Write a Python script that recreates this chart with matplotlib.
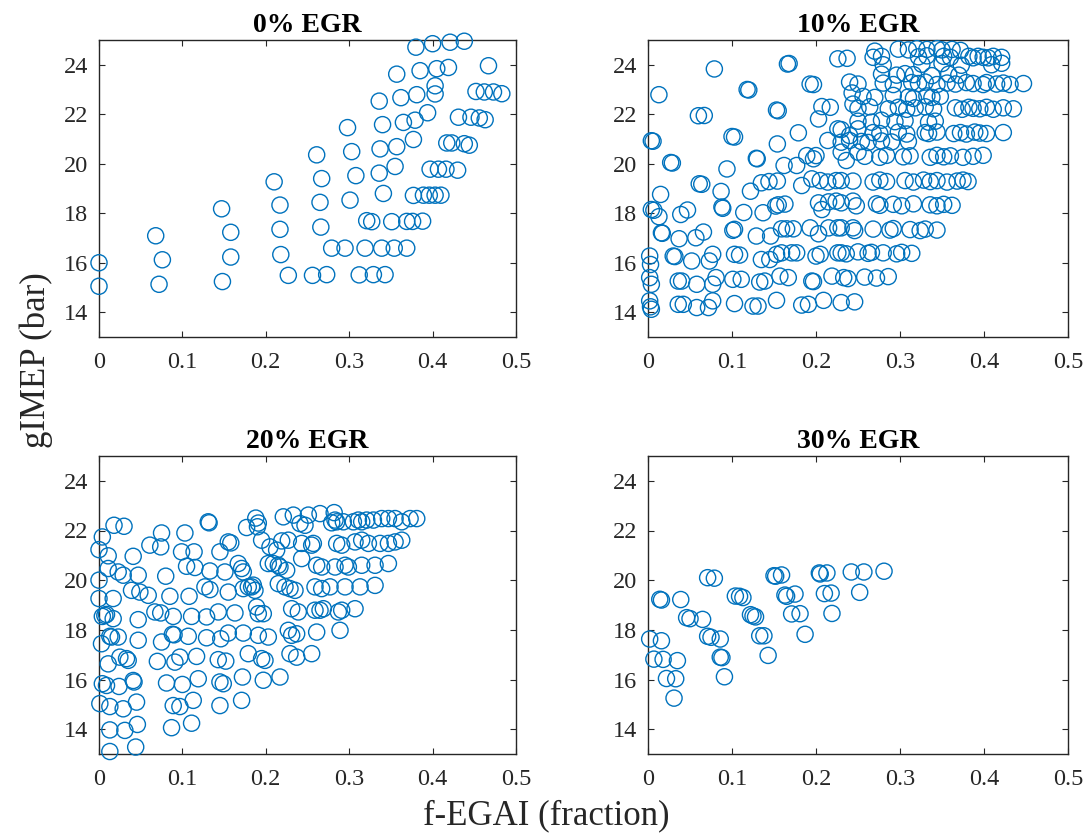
import matplotlib
matplotlib.use("Agg")
import matplotlib.pyplot as plt

plt.rcParams['font.family'] = ['Liberation Serif', 'DejaVu Serif']

MARKER_BLUE = '#0072BD'
AXIS_GREY = '#262626'

# ---------------- 0% EGR ----------------
egr0_x = [0.000, 0.000, 0.068, 0.076, 0.072, 0.147, 0.158, 0.158, 0.148, 0.210,
          0.217, 0.217, 0.218, 0.227, 0.261, 0.267, 0.265, 0.266, 0.256, 0.273,
          0.279, 0.295, 0.298, 0.303, 0.308, 0.301, 0.312, 0.329, 0.343, 0.319,
          0.339, 0.354, 0.369, 0.321, 0.327, 0.351, 0.369, 0.376, 0.388, 0.336,
          0.340, 0.337, 0.336, 0.341, 0.357, 0.362, 0.365, 0.357, 0.355, 0.380,
          0.385, 0.381, 0.379, 0.377, 0.400, 0.405, 0.403, 0.403, 0.394, 0.421,
          0.438, 0.419, 0.467, 0.377, 0.389, 0.396, 0.403, 0.410, 0.397, 0.407,
          0.416, 0.430, 0.417, 0.423, 0.438, 0.444, 0.431, 0.446, 0.456, 0.463,
          0.452, 0.462, 0.473, 0.483]
egr0_y = [16.00, 15.05, 17.09, 16.12, 15.13, 18.18, 17.23, 16.23, 15.24, 19.27,
          18.33, 17.35, 16.33, 15.49, 20.36, 19.40, 18.44, 17.44, 15.49, 15.52,
          16.59, 16.59, 21.46, 20.49, 19.52, 18.53, 15.51, 15.52, 15.52, 16.59,
          16.59, 16.59, 16.59, 17.70, 17.66, 17.66, 17.67, 17.67, 17.68, 22.53,
          21.58, 20.60, 19.62, 18.80, 23.62, 22.67, 21.67, 20.69, 19.89, 24.71,
          23.76, 22.79, 21.76, 20.98, 24.85, 23.84, 23.15, 22.82, 22.06, 24.91,
          24.95, 23.89, 23.96, 18.72, 18.73, 18.73, 18.73, 18.73, 19.78, 19.78,
          19.78, 19.74, 20.84, 20.84, 20.81, 20.75, 21.88, 21.88, 21.85, 21.78,
          22.92, 22.90, 22.90, 22.83]

# ---------------- 10% EGR ----------------
egr10_x = [
    # sparse upper-left strands
    0.079, 0.013, 0.166, 0.168, 0.118, 0.120, 0.060, 0.067, 0.004, 0.006,
    0.027, 0.029, 0.100, 0.103, 0.153, 0.155, 0.193, 0.197, 0.226, 0.094,
    0.129, 0.130, 0.154, 0.179, 0.203, 0.207, 0.217, 0.214, 0.226, 0.162,
    0.177, 0.189, 0.197, 0.200, 0.061, 0.064, 0.087, 0.122, 0.135, 0.144,
    0.154, 0.183, 0.195, 0.205, 0.214, 0.224, 0.015, 0.004, 0.007, 0.013,
    0.039, 0.047, 0.088, 0.089, 0.114, 0.137, 0.152, 0.155, 0.163, 0.203,
    0.207, 0.215, 0.224, 0.016, 0.017, 0.037, 0.057, 0.066, 0.101, 0.103,
    0.129, 0.146, 0.159, 0.165, 0.173, 0.193, 0.203, 0.215, 0.226,
    # ~16.3 bar, left
    0.002, 0.003, 0.030, 0.032, 0.052, 0.073, 0.077, 0.103, 0.109, 0.135,
    0.145, 0.153, 0.159, 0.171, 0.177, 0.200, 0.205, 0.226,
    # ~15.3 bar, left
    0.002, 0.004, 0.036, 0.040, 0.058, 0.077, 0.081, 0.101, 0.111, 0.133,
    0.139, 0.157, 0.167, 0.195, 0.197, 0.219,
    # ~14.3 bar, left
    0.002, 0.004, 0.003, 0.036, 0.042, 0.058, 0.072, 0.077, 0.103, 0.125,
    0.131, 0.153, 0.183, 0.191, 0.209,
    # ~24.6 bar
    0.270, 0.298, 0.310, 0.320, 0.332, 0.344, 0.350, 0.362, 0.372,
    # ~24.3 bar
    0.237, 0.268, 0.278, 0.322, 0.332, 0.352, 0.360, 0.382, 0.387, 0.393,
    0.399, 0.405, 0.411, 0.421,
    # ~24.0 bar
    0.280, 0.326, 0.350, 0.373, 0.409, 0.421,
    # ~23.6 bar
    0.278, 0.296, 0.306, 0.316, 0.338, 0.358, 0.370,
    # ~23.25 bar
    0.240, 0.250, 0.280, 0.292, 0.314, 0.322, 0.330, 0.344, 0.356, 0.366,
    0.379, 0.387, 0.399, 0.403, 0.415, 0.423, 0.431, 0.447,
    # ~22.75 bar
    0.243, 0.256, 0.270, 0.292, 0.310, 0.316, 0.332, 0.338, 0.348,
    # ~22.25 bar
    0.244, 0.250, 0.264, 0.286, 0.298, 0.308, 0.318, 0.330, 0.340, 0.366,
    0.374, 0.382, 0.387, 0.395, 0.403, 0.411, 0.423, 0.435,
    # ~21.75 bar
    0.250, 0.266, 0.278, 0.294, 0.306, 0.334, 0.342,
    # ~21.25 bar
    0.230, 0.240, 0.250, 0.268, 0.276, 0.298, 0.308, 0.330, 0.334, 0.344,
    0.364, 0.372, 0.379, 0.389, 0.395, 0.403, 0.423,
    # ~20.9 bar
    0.230, 0.240, 0.254, 0.262, 0.278, 0.290, 0.310,
    # ~20.3 bar
    0.230, 0.236, 0.250, 0.258, 0.276, 0.284, 0.304, 0.312, 0.336, 0.344,
    0.352, 0.360, 0.375, 0.387, 0.399,
    # ~19.3 bar
    0.230, 0.244, 0.268, 0.276, 0.284, 0.306, 0.316, 0.328, 0.336, 0.344,
    0.356, 0.368, 0.375, 0.381,
    # ~18.35 bar
    0.230, 0.244, 0.248, 0.272, 0.276, 0.292, 0.302, 0.316, 0.336, 0.344,
    0.352, 0.362,
    # ~17.35 bar
    0.230, 0.244, 0.246, 0.268, 0.288, 0.292, 0.312, 0.324, 0.330, 0.344,
    # ~16.4 bar
    0.230, 0.236, 0.250, 0.262, 0.266, 0.280, 0.296, 0.302, 0.314,
    # ~15.4 bar
    0.233, 0.238, 0.258, 0.272, 0.286,
    # ~14.4 bar
    0.230, 0.246,
]
egr10_y = [
    23.83, 22.79, 24.03, 24.05, 23.00, 22.98, 21.94, 21.95, 20.93, 20.91,
    20.05, 20.03, 21.10, 21.08, 22.17, 22.14, 23.22, 23.20, 24.24, 19.79,
    20.22, 20.20, 20.80, 21.25, 21.81, 22.31, 22.28, 20.94, 21.41, 19.93,
    19.93, 20.33, 20.20, 20.33, 19.19, 19.17, 18.88, 18.89, 19.23, 19.28,
    19.30, 19.12, 19.39, 19.32, 19.26, 19.32, 18.76, 18.15, 18.12, 17.86,
    17.95, 18.13, 18.25, 18.20, 18.03, 18.02, 18.29, 18.34, 18.37, 18.42,
    18.15, 18.46, 18.49, 17.21, 17.19, 16.97, 17.01, 17.24, 17.31, 17.35,
    17.08, 17.08, 17.37, 17.37, 17.37, 17.41, 17.17, 17.41, 17.41,
    16.27, 15.93, 16.27, 16.25, 16.07, 16.07, 16.34, 16.34, 16.31, 16.13,
    16.13, 16.34, 16.40, 16.40, 16.40, 16.27, 16.34, 16.40,
    15.40, 15.13, 15.26, 15.26, 15.13, 15.13, 15.40, 15.33, 15.33, 15.22,
    15.26, 15.46, 15.40, 15.26, 15.24, 15.46,
    14.46, 14.12, 14.22, 14.32, 14.32, 14.19, 14.19, 14.46, 14.35, 14.25,
    14.25, 14.48, 14.29, 14.32, 14.48,
    24.55, 24.63, 24.60, 24.65, 24.62, 24.65, 24.60, 24.62, 24.58,
    24.26, 24.30, 24.34, 24.32, 24.36, 24.34, 24.30, 24.34, 24.28, 24.34,
    24.30, 24.28, 24.34, 24.30,
    24.00, 24.02, 24.05, 23.98, 24.00, 24.06,
    23.62, 23.58, 23.64, 23.60, 23.56, 23.62, 23.58,
    23.30, 23.22, 23.26, 23.20, 23.28, 23.24, 23.30, 23.20, 23.26, 23.22,
    23.28, 23.24, 23.20, 23.28, 23.22, 23.26, 23.20, 23.24,
    22.86, 22.72, 22.68, 22.76, 22.70, 22.64, 22.74, 22.68, 22.72,
    22.41, 22.24, 22.30, 22.22, 22.28, 22.20, 22.26, 22.30, 22.22, 22.26,
    22.20, 22.28, 22.24, 22.22, 22.28, 22.20, 22.26, 22.22,
    21.72, 21.68, 21.76, 21.70, 21.74, 21.68, 21.72,
    21.38, 21.14, 21.41, 21.26, 21.22, 21.28, 21.20, 21.26, 21.22, 21.28,
    21.22, 21.26, 21.20, 21.28, 21.24, 21.22, 21.26,
    20.87, 20.94, 20.90, 20.86, 20.92, 20.88, 20.90,
    20.47, 20.13, 20.47, 20.30, 20.26, 20.34, 20.28, 20.32, 20.26, 20.34,
    20.28, 20.32, 20.26, 20.30, 20.34,
    19.32, 19.30, 19.26, 19.34, 19.28, 19.32, 19.26, 19.34, 19.28, 19.32,
    19.26, 19.30, 19.34, 19.28,
    18.42, 18.49, 18.30, 18.38, 18.32, 18.36, 18.30, 18.38, 18.34, 18.30,
    18.36, 18.32,
    17.41, 17.41, 17.30, 17.36, 17.32, 17.38, 17.34, 17.30, 17.36, 17.32,
    16.40, 16.36, 16.44, 16.38, 16.42, 16.40, 16.36, 16.42, 16.38,
    15.40, 15.36, 15.42, 15.38, 15.44,
    14.39, 14.42,
]

# ---------------- 20% EGR ----------------
egr20_x = [
    # ~22.3 bar
    0.018, 0.030, 0.131, 0.132, 0.177, 0.188, 0.191, 0.190, 0.221, 0.233,
    0.241, 0.247, 0.251, 0.265, 0.279, 0.283, 0.285, 0.282, 0.293, 0.305,
    0.311, 0.315, 0.321, 0.329, 0.339, 0.347, 0.355, 0.363, 0.373, 0.381,
    # ~21.5 bar
    0.004, 0.075, 0.103, 0.061, 0.074, 0.155, 0.158, 0.145, 0.099, 0.114,
    0.000, 0.011, 0.041, 0.195, 0.205, 0.213, 0.219, 0.227, 0.243, 0.255,
    0.257, 0.285, 0.291, 0.307, 0.315, 0.323, 0.337, 0.347, 0.355, 0.363,
    # ~20.5 bar
    0.011, 0.023, 0.029, 0.047, 0.080, 0.105, 0.115, 0.133, 0.151, 0.167,
    0.171, 0.173, 0.000, 0.203, 0.209, 0.215, 0.217, 0.225, 0.243, 0.261,
    0.267, 0.283, 0.295, 0.299, 0.315, 0.331, 0.347,
    # ~19.6 bar
    0.039, 0.049, 0.059, 0.017, 0.000, 0.085, 0.108, 0.127, 0.133, 0.155,
    0.173, 0.183, 0.179, 0.187, 0.185, 0.215, 0.223, 0.229, 0.235, 0.259,
    0.267, 0.277, 0.295, 0.313, 0.331,
    # ~18.6 bar
    0.004, 0.007, 0.009, 0.017, 0.047, 0.067, 0.074, 0.089, 0.111, 0.129,
    0.143, 0.163, 0.189, 0.191, 0.197, 0.231, 0.239, 0.259, 0.265, 0.269,
    0.287, 0.291, 0.307,
    # ~17.7 bar
    0.003, 0.013, 0.015, 0.023, 0.047, 0.075, 0.088, 0.090, 0.107, 0.129,
    0.146, 0.155, 0.173, 0.191, 0.203, 0.227, 0.231, 0.237, 0.261, 0.289,
    # ~16.8 bar
    0.011, 0.025, 0.033, 0.035, 0.070, 0.091, 0.097, 0.117, 0.143, 0.152,
    0.179, 0.195, 0.199, 0.229, 0.237, 0.255,
    # ~15.9 bar
    0.004, 0.009, 0.024, 0.041, 0.042, 0.081, 0.100, 0.119, 0.145, 0.149,
    0.172, 0.197, 0.217,
    # ~15.0 bar
    0.001, 0.013, 0.029, 0.045, 0.089, 0.097, 0.113, 0.145, 0.171,
    # ~14.1 bar and below
    0.013, 0.031, 0.046, 0.087, 0.111, 0.013, 0.044,
]
egr20_y = [
    22.21, 22.17, 22.35, 22.31, 22.12, 22.50, 22.30, 22.15, 22.55, 22.62,
    22.28, 22.21, 22.62, 22.68, 22.31, 22.42, 22.35, 22.72, 22.35, 22.35,
    22.42, 22.35, 22.42, 22.42, 22.48, 22.48, 22.48, 22.35, 22.48, 22.48,
    21.74, 21.90, 21.90, 21.41, 21.34, 21.54, 21.50, 21.14, 21.14, 21.14,
    21.23, 20.98, 20.96, 21.61, 21.34, 21.21, 21.58, 21.61, 21.48, 21.41,
    21.48, 21.48, 21.41, 21.54, 21.61, 21.48, 21.48, 21.48, 21.54, 21.61,
    20.47, 20.33, 20.20, 20.20, 20.16, 20.56, 20.51, 20.37, 20.33, 20.67,
    20.47, 20.33, 20.00, 20.67, 20.67, 20.60, 20.53, 20.40, 20.87, 20.60,
    20.53, 20.53, 20.60, 20.53, 20.60, 20.60, 20.67,
    19.59, 19.52, 19.39, 19.26, 19.26, 19.35, 19.35, 19.73, 19.62, 19.52,
    19.66, 19.73, 19.73, 19.59, 19.80, 19.86, 19.73, 19.66, 19.59, 19.73,
    19.66, 19.73, 19.73, 19.73, 19.79,
    18.54, 18.58, 18.62, 18.45, 18.41, 18.72, 18.68, 18.54, 18.54, 18.52,
    18.72, 18.68, 18.92, 18.65, 18.65, 18.85, 18.72, 18.79, 18.79, 18.85,
    18.72, 18.79, 18.85,
    17.44, 17.74, 17.71, 17.71, 17.58, 17.51, 17.82, 17.80, 17.74, 17.68,
    17.64, 17.87, 17.87, 17.78, 17.71, 17.98, 17.78, 17.84, 17.91, 17.98,
    16.63, 16.90, 16.84, 16.77, 16.73, 16.70, 16.90, 16.93, 16.80, 16.74,
    17.04, 16.84, 16.77, 17.04, 16.90, 17.04,
    15.83, 15.76, 15.72, 15.96, 15.90, 15.86, 15.80, 16.03, 15.90, 15.83,
    16.10, 15.97, 16.10,
    15.03, 14.91, 14.82, 15.09, 14.95, 14.91, 15.16, 14.95, 15.16,
    13.97, 13.95, 14.19, 14.06, 14.24, 13.10, 13.28,
]

# ---------------- 30% EGR ----------------
egr30_x = [0.002, 0.016, 0.007, 0.018, 0.035, 0.022, 0.033, 0.031, 0.014, 0.016,
           0.039, 0.046, 0.050, 0.065, 0.071, 0.079, 0.071, 0.075, 0.086, 0.086,
           0.088, 0.091, 0.104, 0.109, 0.113, 0.122, 0.125, 0.128, 0.133, 0.138,
           0.143, 0.150, 0.152, 0.159, 0.163, 0.165, 0.175, 0.171, 0.181, 0.187,
           0.204, 0.205, 0.213, 0.210, 0.218, 0.219, 0.242, 0.257, 0.252, 0.281]
egr30_y = [17.63, 17.56, 16.82, 16.81, 16.76, 16.04, 16.03, 15.25, 19.23, 19.20,
           19.22, 18.49, 18.45, 18.42, 20.10, 20.08, 17.74, 17.70, 17.63, 16.90,
           16.88, 16.11, 19.36, 19.35, 19.30, 18.61, 18.56, 18.52, 17.76, 17.76,
           16.97, 20.18, 20.16, 20.21, 19.40, 19.35, 19.44, 18.64, 18.65, 17.82,
           20.29, 20.25, 20.29, 19.46, 19.48, 18.66, 20.33, 20.33, 19.51, 20.36]

panels = [
    ("0% EGR", egr0_x, egr0_y),
    ("10% EGR", egr10_x, egr10_y),
    ("20% EGR", egr20_x, egr20_y),
    ("30% EGR", egr30_x, egr30_y),
]

x_ticks = [0, 0.1, 0.2, 0.3, 0.4, 0.5]
x_tick_labels = ["0", "0.1", "0.2", "0.3", "0.4", "0.5"]
y_ticks = [14, 16, 18, 20, 22, 24]

W, H = 1086, 833
fig = plt.figure(figsize=(W / 100, H / 100), dpi=100)


def frame(left, top, right, bottom):
    return [left / W, 1 - bottom / H, (right - left) / W, (bottom - top) / H]


boxes = [frame(99, 40, 516, 337), frame(648, 40, 1068, 337),
         frame(99, 456, 516, 754), frame(648, 456, 1068, 754)]

for (title, xs, ys), rect in zip(panels, boxes):
    ax = fig.add_axes(rect)
    ax.scatter(xs, ys, s=135, facecolors='none', edgecolors=MARKER_BLUE,
               linewidths=1.0, clip_on=False, zorder=3)
    ax.set_xlim(0, 0.5)
    ax.set_ylim(13, 25)
    ax.set_xticks(x_ticks)
    ax.set_xticklabels(x_tick_labels)
    ax.set_yticks(y_ticks)
    ax.tick_params(direction='in', length=4, width=0.8, top=True, right=True,
                   labelsize=17.5, colors=AXIS_GREY)
    ax.tick_params(axis='x', pad=11)
    ax.tick_params(axis='y', pad=8)
    for spine in ax.spines.values():
        spine.set_linewidth(1.0)
        spine.set_color(AXIS_GREY)
    ax.set_title(title, fontsize=20, fontweight='bold', color='black', pad=6)

fig.text(36 / W, 1 - 360 / H, "gIMEP (bar)", rotation=90, ha='center',
         va='center', fontsize=25, color=AXIS_GREY)
fig.text(546 / W, 1 - 816 / H, "f-EGAI (fraction)", ha='center', va='center',
         fontsize=25, color=AXIS_GREY)

fig.savefig("out.png", dpi=100, facecolor='white')
